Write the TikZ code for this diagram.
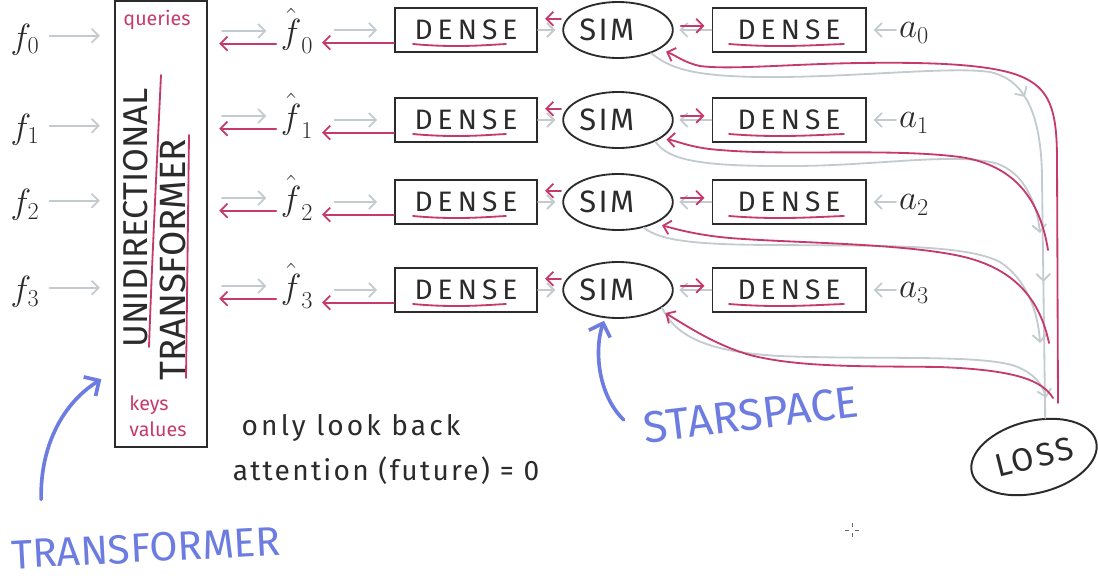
\documentclass[tikz,border=0pt]{standalone}
\usepackage{fontspec}
\setmainfont{Fira Sans}
\newfontfamily\hw[LetterSpace=18]{Fira Sans}
\newfontfamily\hwb[LetterSpace=8]{Fira Sans}
\newfontfamily\hwc[LetterSpace=11]{Fira Sans}
\usetikzlibrary{arrows.meta,shapes.geometric,calc,decorations.markings}
\definecolor{ink}{HTML}{2B2B2B}
\definecolor{lg}{HTML}{C3CBCF}
\definecolor{hr}{HTML}{C63A6B}
\definecolor{hb}{HTML}{6C7CE0}
\begin{document}
\begin{tikzpicture}[x=0.025cm,y=-0.025cm,
 >={Straight Barb[length=5pt,width=10pt]},
 garr/.style={draw=lg,line width=1.3pt,->,line cap=round},
 rarr/.style={draw=hr,line width=1.3pt,->,line cap=round},
 gline/.style={draw=lg,line width=1.3pt,line cap=round},
 rline/.style={draw=hr,line width=1.3pt,line cap=round},
 dbox/.style={draw=ink,line width=1.4pt,minimum height=1.1cm,inner sep=0pt,text=ink,font=\hw\fontsize{20}{22}\selectfont},
 simn/.style={ellipse,draw=ink,line width=1.3pt,minimum width=2.25cm,minimum height=1.4cm,inner sep=0pt,text=ink,font=\hwb\fontsize{22}{24}\selectfont},
 lbl/.style={text=ink,font=\fontsize{26}{28}\selectfont,inner sep=0pt},
 rtxt/.style={text=hr,font=\fontsize{14}{16}\selectfont,inner sep=0pt},
 btxt/.style={text=hb,font=\fontsize{29}{31}\selectfont,inner sep=0pt},
 ntxt/.style={text=ink,font=\fontsize{20}{22}\selectfont,inner sep=0pt},
 barr/.style={draw=hb,line width=2.6pt,line cap=round,-{Straight Barb[length=8pt,width=16pt]}},
]
\useasboundingbox (0,0) rectangle (1098,580);

% transformer block
\node[draw=ink,line width=1.4pt,minimum width=2.3cm,minimum height=11.15cm,inner sep=0pt] (tr) at (161,224) {};
\node[rotate=90,text=ink,inner sep=0pt,font=\fontsize{24.5}{26}\selectfont] (uni) at (136,218) {UNIDIRECTIONAL};
\node[rotate=90,text=ink,inner sep=0pt,font=\fontsize{26}{28}\selectfont] (trn) at (173,260) {TRANSFORMER};
\draw[rline] (161,75) .. controls (157,160) and (152,260) .. (149,347);
\draw[rline] (189,135) .. controls (188,220) and (187,300) .. (186,378);
\node[rtxt] (q) at (157,20) {queries};
\node[rtxt] (kk) at (149,405) {keys};
\node[rtxt] (vv) at (158,429) {values};

% rows
\foreach \i/\Y/\fy/\hy in {0/30/40/31,1/120/130/116,2/202/205/198,3/290/292/286}{
  \node[lbl] (f\i) at (25,\fy) {$f_\i$};
  \node[lbl] (fh\i) at (297,\hy) {$\hat{\vphantom{\big(}f}_\i$};
  \node[dbox,minimum width=3.55cm] (d\i) at (466,\Y) {DENSE};
  \node[simn] (s\i) at (618,\Y) {SIM\hspace*{16pt}};
  \node[dbox,minimum width=3.825cm] (e\i) at (789,\Y) {DENSE};
  \node[lbl,font=\fontsize{24}{26}\selectfont] (a\i) at (914,\Y+3) {$a_\i$};
  \draw[rline] ($(d\i.center)+(-53,14)$) .. controls ($(d\i.center)+(-10,18)$) and ($(d\i.center)+(20,15)$) .. ($(d\i.center)+(40,14)$);
  \draw[rline] ($(e\i.center)+(-60,14)$) .. controls ($(e\i.center)+(-10,18)$) and ($(e\i.center)+(25,15)$) .. ($(e\i.center)+(55,14)$);
  \draw[garr] ([xshift=7pt,yshift=3pt]f\i.east) -- ([xshift=-10pt,yshift=3pt]f\i.east -| tr.west);
  \draw[garr] ([xshift=10pt]tr.east |- fh\i.west) -- ([xshift=-10pt]fh\i.west);
  \draw[rarr] ([xshift=-3pt,yshift=-9pt]fh\i.west) -- ([xshift=8pt,yshift=-9pt]tr.east |- fh\i.west);
  \draw[garr] ([xshift=15pt]fh\i.east |- d\i.west) -- ([xshift=-12pt]d\i.west);
  \draw[rarr] ([yshift=-9pt]d\i.west) -- ([xshift=6pt,yshift=-9pt]fh\i.east |- d\i.west);
  \draw[garr] (d\i.east) -- ([xshift=-5pt]s\i.west);
  \draw[rarr] ([xshift=-1pt,yshift=8pt]s\i.west) -- ([xshift=5pt,yshift=8pt]s\i.west -| d\i.east);
  \draw[garr] (e\i.west) -- ([xshift=4pt]s\i.east);
  \draw[rarr] ([xshift=5pt,yshift=3pt]s\i.east) -- ([xshift=-5pt,yshift=3pt]s\i.east -| e\i.west);
  \draw[garr] ([xshift=-2pt]a\i.west |- e\i.east) -- ([xshift=5pt]e\i.east);
}

% loss
\node[ellipse,draw=ink,line width=1.4pt,minimum width=3.2cm,minimum height=1.8cm,rotate=14,text=ink,inner sep=0pt,font=\hwb\fontsize{23}{25}\selectfont] (loss) at (1034,457) {LOSS};

\coordinate (r0) at (1058,403);
\coordinate (r1) at (1048,250);
\coordinate (r2) at (1049,343);
\coordinate (r3) at (1053,398);
\coordinate (g0) at (1025,97);
\coordinate (g1) at (1040,233);
\coordinate (g2) at (1040,343);
\coordinate (g3) at (1046,398);

% gray: SIM -> loss
\draw[garr] (s0.-35) .. controls (670,68) and (690,76) .. (760,77) .. controls (850,78) and (950,66) .. (990,72) .. controls (1008,76) and (1018,86) .. (g0);
\draw[gline,decoration={markings,mark=at position 0.58 with {\arrow{Straight Barb[length=5pt,width=10pt]}}},postaction={decorate}] (g0) .. controls (1035,112) and (1042,140) .. (1042,180) -- (loss.60);
\draw[garr] (s1.-30) .. controls (668,160) and (700,166) .. (780,166) .. controls (870,167) and (950,152) .. (995,163) .. controls (1025,172) and (1037,205) .. (g1);
\draw[garr] (s2.-45) .. controls (660,240) and (690,245) .. (780,245) .. controls (880,246) and (965,244) .. (1000,262) .. controls (1025,278) and (1038,310) .. (g2);
\draw[garr] (s3.-22) .. controls (675,335) and (705,352) .. (780,356) .. controls (870,360) and (980,354) .. (1015,366) .. controls (1034,373) and (1043,385) .. (g3);

% red: loss -> SIM
\draw[rarr,shorten >=5pt] (r0) -- (1057,160) .. controls (1057,110) and (1050,88) .. (1020,76) .. controls (990,64) and (930,62) .. (860,63) .. controls (790,64) and (730,70) .. (700,66) .. controls (685,63) and (675,55) .. (s0.-25);
\draw[rarr,shorten >=5pt] (r1) .. controls (1040,200) and (1015,165) .. (960,157) .. controls (890,148) and (790,156) .. (720,150) .. controls (690,148) and (675,140) .. (s1.-25);
\draw[rarr,shorten >=5pt] (r2) .. controls (1040,300) and (1015,268) .. (960,256) .. controls (900,243) and (790,243) .. (730,238) .. controls (695,235) and (672,228) .. (s2.-30);
\draw[rarr,shorten >=5pt] (r3) .. controls (1042,380) and (1015,370) .. (940,367) .. controls (870,366) and (800,368) .. (750,355) .. controls (715,345) and (685,325) .. (s3.-25);

% notes
\node[ntxt,font=\hwc\fontsize{20}{22}\selectfont] (n1) at (351,428) {only look back};
\node[ntxt,font=\hwb\fontsize{20}{22}\selectfont] (n2) at (386,471) {attention (future) = 0};

% blue annotations
\node[btxt,rotate=3] (bt) at (146,548) {TRANSFORMER};
\draw[barr] ([shift={(-74pt,24pt)}]bt.north) .. controls (40,450) and (60,405) .. ([shift={(-9pt,49pt)}]tr.south west);
\node[btxt,rotate=7,font=\fontsize{31.5}{33}\selectfont] (bs) at (751,415) {STARSPACE};
\draw[barr,shorten >=2pt] ([shift={(-14pt,6pt)}]bs.west) .. controls (598,395) and (594,350) .. (s3.-115);

% cursor mark
\draw[ink!70,line width=0.5pt] (845,530) -- (849,530) (855,530) -- (859,530) (852,523) -- (852,527) (852,533) -- (852,537);
\end{tikzpicture}
\end{document}
